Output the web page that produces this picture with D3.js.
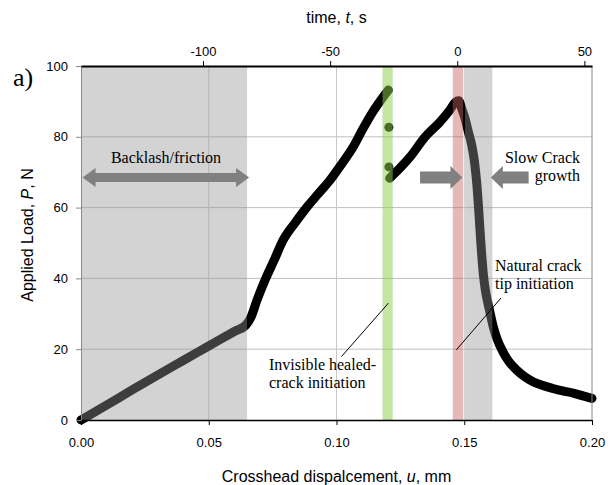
<!DOCTYPE html>
<html>
<head>
<meta charset="utf-8">
<script src="https://cdn.jsdelivr.net/npm/d3@7"></script>
<style>
  body { margin: 0; background: #fff; }
  svg { display: block; }
  .tick text { font-family: Arial, "Liberation Sans", sans-serif; fill: #000; }
</style>
</head>
<body>
<svg width="612" height="485"></svg>
<script>
// loading branch up to the healed-crack initiation
var loadU1 = [0, 0.01, 0.02, 0.03, 0.04, 0.05, 0.06, 0.0645, 0.0665, 0.0689, 0.072, 0.0755,
              0.0791, 0.084, 0.0885, 0.093, 0.0975, 0.102, 0.1065, 0.110, 0.1139, 0.117, 0.1203];
var loadP1 = [0, 4.2, 8.5, 12.7, 16.8, 20.9, 25.0, 26.8, 29.0, 33.9, 39.5, 45.0,
              50.8, 55.9, 60.2, 64.0, 67.8, 72.3, 77.1, 81.8, 86.7, 90.0, 93.2];
// isolated points during the load drop
var dropU = [0.1205, 0.1205];
var dropP = [82.7, 71.5];
// reloading, natural crack initiation and growth
var loadU2 = [0.1208, 0.1249, 0.1288, 0.1346, 0.1405, 0.1444, 0.1465, 0.1478, 0.149, 0.1503, 0.1516,
              0.1529, 0.154, 0.155, 0.1556, 0.1565, 0.1575, 0.1583, 0.1592, 0.1601, 0.1614, 0.163,
              0.1652, 0.1675, 0.1705, 0.1735, 0.1769, 0.1805, 0.1847, 0.1885, 0.1926, 0.1965, 0.2];
var loadP2 = [68.3, 71.2, 74.3, 79.9, 84.2, 87.6, 89.8, 90.2, 88.0, 85.2, 81.4,
              77.7, 73.0, 66.0, 60.0, 50.0, 41.0, 36.5, 33.2, 30.3, 26.2, 22.6,
              19.2, 16.5, 14.1, 12.3, 10.8, 9.8, 8.9, 8.2, 7.6, 6.8, 6.1];

// shaded zones, in mm
var zoneStart = [0, 0.118, 0.1455, 0.1503];
var zoneEnd   = [0.065, 0.122, 0.1495, 0.161];
var zoneColor = ["#939393", "#8ece51", "#c86464", "#939393"];
var zoneAlpha = [0.41, 0.52, 0.45, 0.41];

var uTicks = [0, 0.05, 0.10, 0.15, 0.20];
var pTicks = [0, 20, 40, 60, 80, 100];
var tTicks = [-100, -50, 0, 50];

(function() {
    "use strict";

var svg = d3.select("svg"),
    x0 = 81, x1 = 592, y0 = 66, y1 = 420;

var x = d3.scaleLinear().domain([0, 0.2]).range([x0, x1]),
    y = d3.scaleLinear().domain([0, 100]).range([y1, y0]),
    t = d3.scaleLinear().domain([-148, 53]).range([x0, x1]);

var serif = "'Times New Roman', 'Liberation Serif', serif",
    sans = "Arial, 'Liberation Sans', sans-serif";

// grid
svg.append("g").selectAll("line")
    .data(pTicks.slice(1, -1))
    .join("line")
    .attr("x1", x0).attr("x2", x1)
    .attr("y1", d => y(d)).attr("y2", d => y(d))
    .attr("stroke", "#bfbfbf");

svg.append("g").selectAll("line")
    .data(uTicks.slice(1, -1))
    .join("line")
    .attr("x1", d => x(d)).attr("x2", d => x(d))
    .attr("y1", y0).attr("y2", y1)
    .attr("stroke", "#c8c8c8");

// data
var line = d3.line()
    .x(d => x(d[0]))
    .y(d => y(d[1]))
    .curve(d3.curveMonotoneX);

[d3.zip(loadU1, loadP1), d3.zip(loadU2, loadP2)].forEach(function(seg) {
    svg.append("path")
        .attr("d", line(seg))
        .attr("fill", "none")
        .attr("stroke", "#000")
        .attr("stroke-width", 9)
        .attr("stroke-linecap", "round")
        .attr("stroke-linejoin", "round");
});

svg.append("g").selectAll("circle")
    .data(d3.zip(dropU, dropP))
    .join("circle")
    .attr("cx", d => x(d[0]))
    .attr("cy", d => y(d[1]))
    .attr("r", 4.5)
    .attr("fill", "#000");

// translucent zones over the curve
svg.append("g").selectAll("rect")
    .data(d3.range(zoneStart.length))
    .join("rect")
    .attr("x", i => x(zoneStart[i]))
    .attr("width", i => x(zoneEnd[i]) - x(zoneStart[i]))
    .attr("y", y0)
    .attr("height", y1 - y0)
    .attr("fill", i => zoneColor[i])
    .attr("fill-opacity", i => zoneAlpha[i]);

// axes
var gx = svg.append("g")
    .attr("transform", "translate(0," + y1 + ")")
    .call(d3.axisBottom(x).tickValues(uTicks).tickFormat(d3.format(".2f"))
        .tickSize(5).tickSizeOuter(0).tickPadding(13));
gx.select(".domain").attr("stroke", "#000").attr("stroke-width", 1.5);
gx.selectAll(".tick text").attr("font-size", 13);

var gy = svg.append("g")
    .attr("transform", "translate(" + x0 + ",0)")
    .call(d3.axisLeft(y).tickValues(pTicks).tickSize(5).tickSizeOuter(0).tickPadding(8));
gy.select(".domain").attr("stroke", "#888");
gy.selectAll(".tick line").attr("stroke", "#888");
gy.selectAll(".tick text").attr("font-size", 13);

svg.append("line")
    .attr("x1", x1).attr("x2", x1)
    .attr("y1", y0).attr("y2", y1)
    .attr("stroke", "#888");

var gt = svg.append("g")
    .attr("transform", "translate(0," + y0 + ")")
    .call(d3.axisTop(t).tickValues(tTicks).tickFormat(d => String(d))
        .tickSize(5).tickSizeOuter(0).tickPadding(5));
gt.select(".domain").attr("stroke", "#000").attr("stroke-width", 2);
gt.selectAll(".tick text").attr("font-size", 13);

// axis titles
function title(sel, parts) {
    parts.forEach(function(p) {
        sel.append("tspan").text(p[0]).attr("font-style", p[1] ? "italic" : null);
    });
    return sel;
}

title(svg.append("text")
    .attr("x", (x0 + x1) / 2).attr("y", 23)
    .attr("text-anchor", "middle")
    .attr("font-family", sans).attr("font-size", 16),
    [["time, "], ["t", 1], [", s"]]);

title(svg.append("text")
    .attr("x", (x0 + x1) / 2).attr("y", 482)
    .attr("text-anchor", "middle")
    .attr("font-family", sans).attr("font-size", 16),
    [["Crosshead dispalcement, "], ["u", 1], [", mm"]]);

title(svg.append("text")
    .attr("transform", "translate(33,235) rotate(-90)")
    .attr("text-anchor", "middle")
    .attr("font-family", sans).attr("font-size", 16),
    [["Applied Load, "], ["P", 1], [", N"]]);

svg.append("text")
    .attr("x", 13).attr("y", 86)
    .attr("font-family", serif).attr("font-size", 26)
    .text("a)");

// arrows
function arrow(xa, xb, cy, shaft, head, len, both) {
    var dir = xb > xa ? 1 : -1, hx = xb - dir * len, pts;
    if (both) {
        var sx = xa + dir * len;
        pts = [[xa, cy], [sx, cy - head], [sx, cy - shaft], [hx, cy - shaft], [hx, cy - head],
               [xb, cy], [hx, cy + head], [hx, cy + shaft], [sx, cy + shaft], [sx, cy + head]];
    } else {
        pts = [[xa, cy - shaft], [hx, cy - shaft], [hx, cy - head], [xb, cy],
               [hx, cy + head], [hx, cy + shaft], [xa, cy + shaft]];
    }
    svg.append("path")
        .attr("d", "M" + pts.join("L") + "Z")
        .attr("fill", "#808080");
}

arrow(x(0.0006), x(0.0658), y(68.5), 4.5, 9.5, 13, true);
arrow(x(0.1327), x(0.1493), y(68.5), 6, 11.5, 12, false);
arrow(x(0.1752), x(0.1604), y(68.5), 6, 11.5, 12, false);

// annotations
function note(xp, yp, lines, anchor) {
    var tx = svg.append("text")
        .attr("font-family", serif).attr("font-size", 16)
        .attr("text-anchor", anchor || "start");
    lines.forEach(function(s, i) {
        tx.append("tspan").attr("x", xp).attr("y", yp + i * 18).text(s);
    });
}

note(166, 163, ["Backlash/friction"], "middle");
note(580, 163, ["Slow Crack", "growth"], "end");
note(495, 271, ["Natural crack", "tip initiation"]);
note(269, 370, ["Invisible healed-", "crack initiation"]);

svg.append("line")
    .attr("x1", 341.5).attr("y1", 356.5)
    .attr("x2", x(0.1203)).attr("y2", y(33))
    .attr("stroke", "#000");
svg.append("line")
    .attr("x1", x(0.1469)).attr("y1", y(19.8))
    .attr("x2", 501).attr("y2", 298)
    .attr("stroke", "#000");
}());
</script>
</body>
</html>
